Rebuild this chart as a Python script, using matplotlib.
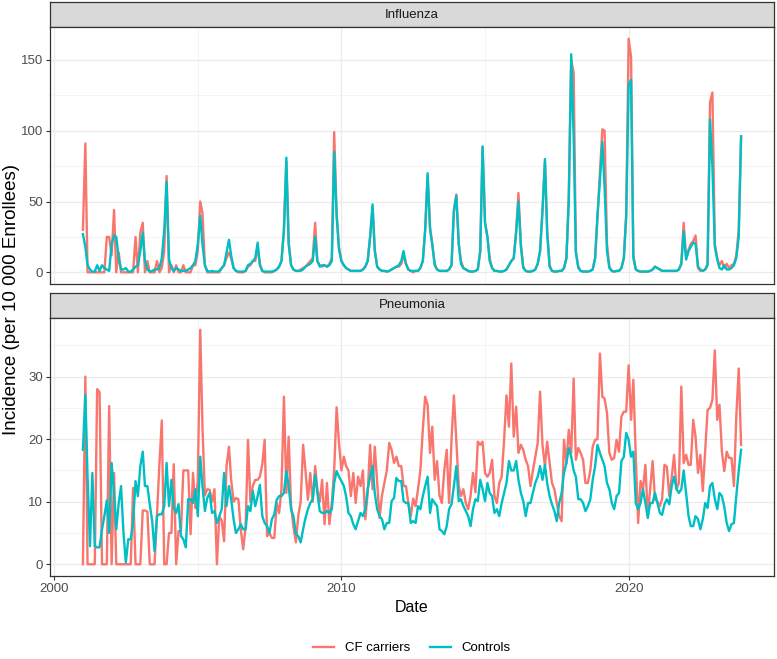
import matplotlib
matplotlib.use("Agg")
import matplotlib.pyplot as plt
import matplotlib.dates as mdates
from matplotlib.lines import Line2D
import numpy as np
import pandas as pd

plt.rcParams['font.family'] = ['Liberation Sans', 'DejaVu Sans']

# monthly values, Jan 2001 .. Dec 2023 (one row per year)
cf_flu = [
    30, 91, 0, 0, 0, 0, 0, 0, 0, 0, 25, 25,
    12, 44, 0, 14, 0, 0, 0, 0, 0, 0, 25, 0,
    28, 35, 0, 8, 0, 0, 0, 8, 0, 3, 15, 68,
    0, 5, 0, 5, 0, 0, 5, 0, 0, 0, 5, 5,
    15, 50, 42, 5, 0, 0, 0, 0, 0, 0, 3, 5,
    10, 14, 10, 3, 1, 0, 0, 0, 1, 4, 5, 8,
    8, 18, 6, 1, 0, 0, 0, 0, 1, 2, 4, 8,
    30, 78, 22, 5, 2, 1, 1, 2, 3, 4, 6, 8,
    10, 35, 8, 5, 4, 5, 4, 6, 10, 99, 42, 18,
    8, 5, 3, 2, 1, 1, 1, 1, 1, 2, 4, 8,
    25, 46, 16, 4, 2, 1, 1, 0.5, 1, 2, 3, 4,
    4, 6, 12, 6, 2, 1, 0, 1, 1, 3, 8, 30,
    68, 32, 20, 6, 2, 1, 1, 1, 1, 2, 5, 42,
    55, 20, 8, 3, 2, 1, 0.5, 0.5, 1, 2, 15, 88,
    35, 25, 10, 3, 1, 1, 0.5, 0.5, 1, 2, 5, 8,
    10, 30, 56, 20, 4, 1, 0.5, 0.5, 1, 2, 6, 15,
    44, 78, 30, 5, 1, 0.5, 0.5, 1, 1, 3, 10, 55,
    150, 141, 15, 4, 1, 0.5, 0.5, 0.5, 1, 2, 10, 40,
    70, 101, 100, 20, 4, 1, 0.5, 1, 1, 3, 10, 40,
    165, 152, 12, 2, 1, 0.5, 0.5, 0.5, 0.5, 1, 2, 4,
    3, 2, 1, 1, 1, 1, 1, 1, 1, 2, 6, 35,
    10, 16, 20, 22, 26, 3, 1, 1, 2, 6, 120, 127,
    20, 10, 5, 8, 3, 6, 3, 5, 6, 12, 30, 96,
]
ctrl_flu = [
    27, 18, 5, 2, 0.5, 0.5, 5, 1, 5, 3, 2, 1,
    20, 26, 25, 10, 2, 2, 3, 0.5, 0.5, 2, 4, 5,
    15, 28, 8, 2, 0.5, 1, 2, 2, 3, 10, 30, 64,
    9, 3, 1, 3, 2, 1, 1, 1, 2, 3, 5, 8,
    20, 40, 20, 5, 1, 0.5, 1, 0.5, 0.5, 1, 3, 5,
    14, 23, 12, 3, 1, 0.5, 0.5, 0.5, 1, 5, 6, 8,
    10, 21, 5, 1, 0.5, 0.5, 0.5, 0.5, 1, 2, 4, 8,
    30, 81, 20, 5, 2, 1, 1, 1, 2, 4, 5, 6,
    8, 25, 8, 4, 5, 5, 4, 5, 8, 85, 40, 16,
    8, 5, 3, 2, 1, 1, 1, 1, 1, 2, 4, 8,
    25, 48, 15, 4, 2, 1, 1, 0.5, 1, 2, 3, 4,
    5, 8, 15, 6, 2, 1, 1, 1, 1, 3, 8, 30,
    70, 30, 20, 5, 2, 1, 1, 1, 1, 2, 5, 44,
    54, 20, 6, 3, 2, 1, 0.5, 0.5, 1, 2, 15, 89,
    35, 25, 8, 3, 1, 1, 0.5, 0.5, 1, 2, 5, 8,
    10, 28, 50, 18, 3, 1, 0.5, 0.5, 1, 2, 6, 15,
    44, 80, 28, 4, 1, 0.5, 0.5, 1, 1, 3, 10, 50,
    154, 95, 14, 3, 1, 0.5, 0.5, 0.5, 1, 2, 10, 40,
    65, 92, 60, 15, 3, 1, 0.5, 1, 1, 3, 10, 40,
    132, 136, 10, 2, 1, 0.5, 0.5, 0.5, 0.5, 1, 2, 4,
    3, 2, 1, 1, 1, 1, 1, 1, 1, 2, 6, 29,
    9, 15, 18, 21, 20, 4, 2, 1, 2, 5, 108, 75,
    18, 9, 3, 2, 5, 2, 2, 3, 5, 10, 25, 96,
]
cf_pna = [
    0, 30, 0, 0, 0, 0, 28, 27.5, 0, 0, 0, 25.3,
    0, 14.6, 0, 0, 0, 0, 0, 0, 0, 12.2, 0, 0,
    0, 8.6, 8.6, 8.4, 0, 0, 0, 8, 16, 23, 0, 0,
    5, 5, 16, 0, 5.3, 5.3, 15, 15, 15, 4.8, 14.6, 9,
    13.5, 37.5, 22, 11, 12, 11.9, 10, 12, 0, 7.7, 7, 3.7,
    15.7, 18.8, 13.5, 10, 10.6, 10.4, 5.6, 2.4, 6, 19.9, 10, 12.5,
    13.5, 13.5, 14, 16, 19.9, 4.5, 5, 4.2, 4.2, 9.8, 8.2, 12,
    26.8, 11.4, 20.4, 9.3, 6, 3.5, 7.7, 10, 19.1, 15, 10.3, 14.6,
    10, 15.7, 12, 10, 13.5, 6.4, 13, 6.4, 9.8, 15, 25.1, 19.4,
    15, 17.2, 15.7, 15, 10.9, 14.6, 9.8, 14, 12.5, 15, 7.2, 11.4,
    19.1, 12, 18.8, 13, 7.4, 11, 13, 15, 19.4, 18.3, 16.2, 17.2,
    15.7, 15.7, 12.5, 12.5, 9.8, 7.7, 10.5, 9.3, 12, 15, 21.5, 26.8,
    25.5, 17.8, 22, 13.5, 16.5, 11, 9.8, 15, 18.3, 9.8, 19.9, 27,
    19.9, 12.5, 10.9, 12, 9.8, 8.8, 10.9, 14.6, 11.5, 19.6, 19.1, 19.6,
    14.6, 14, 14.6, 16.7, 10.9, 9.8, 13, 14, 19.9, 27, 22, 32.1,
    20.4, 25.2, 17.8, 19.1, 18.3, 16.7, 15.7, 12.5, 15, 17.2, 19.4, 27.6,
    19, 15.7, 19.6, 16.2, 13, 12, 9.8, 7.7, 6.9, 19.9, 16.2, 21.5,
    17.8, 29.7, 16.7, 18.6, 17.8, 16.7, 13, 13, 15, 18.8, 19.9, 20,
    33.7, 26.8, 26.5, 24.2, 17.8, 16.7, 17, 19.9, 18, 23.6, 24.4, 24.4,
    31.8, 23.1, 29.5, 17.2, 6.6, 13.3, 12, 15.9, 7.7, 12, 16.5, 10.4,
    10, 9.3, 10.4, 15.9, 15.6, 10.9, 13.8, 17.5, 12, 13, 28.4, 16.2,
    17.5, 15.9, 15.9, 23.1, 20.4, 14.6, 17.5, 11.7, 18.3, 24.7, 25, 26.3,
    34.2, 23.1, 25.5, 18, 14.9, 18, 17, 17, 12.5, 23.6, 31.3, 19.1,
]
ctrl_pna = [
    18.3, 27.1, 14, 2.9, 14.6, 2.9, 2.7, 2.7, 5.6, 7.7, 10.2, 5,
    16.2, 11.4, 5.6, 9.8, 12.5, 5, 0.3, 4, 4, 6.6, 13.3, 10.9,
    15.7, 18, 12.5, 12.5, 9.6, 6.9, 2.1, 7.7, 8, 8, 9.3, 16.2,
    9.3, 13.5, 9, 8.2, 9.6, 4.5, 4, 2.7, 10.4, 10.4, 9.8, 12,
    7.7, 17.2, 12.5, 8.5, 10.6, 11.4, 8.2, 8.5, 6.6, 7.7, 8.8, 14.6,
    9.3, 12.5, 10.4, 7.2, 5, 5.6, 6.4, 5.6, 5.6, 9.3, 8.5, 11.7,
    9.3, 10.9, 12.7, 7.7, 6.6, 6.1, 5, 7.2, 8, 10.3, 10.9, 10.9,
    11.4, 14.9, 12.5, 8.8, 7.7, 4.8, 4.5, 3.5, 5.6, 7.4, 8.8, 9.8,
    10.4, 14.3, 11.4, 8.5, 8.2, 8.2, 8.5, 8.2, 8.8, 13, 14.9, 14,
    13.3, 12.5, 10.9, 8.2, 7.7, 6.4, 5.6, 6.9, 8.2, 7.7, 8.8, 12,
    14, 15.7, 11.4, 8.8, 7.7, 7.2, 5.6, 6.6, 6.6, 10.1, 10.6, 13.8,
    13.3, 13.3, 10.1, 9.8, 9.8, 6.6, 6.9, 6.6, 9.3, 8.8, 10.9, 12.5,
    14, 8.2, 10.4, 9.8, 9.3, 5.6, 5.3, 4.8, 6.1, 8.8, 9.6, 12.5,
    15.7, 10.1, 10.4, 9.3, 8.5, 7.7, 6.1, 8.8, 10.4, 10.1, 13.5, 12,
    10.1, 13, 11.4, 10.9, 8.2, 8.8, 7.7, 9.8, 11.4, 13, 16.5, 15,
    15, 16.5, 13.5, 11.4, 10.1, 7.7, 9.8, 9.8, 11.4, 13, 14, 15.7,
    13.5, 15.9, 13, 10.9, 9.6, 8.5, 6.9, 9.8, 11.4, 14.6, 16.2, 18.6,
    17.2, 15, 14, 10.4, 10.4, 9.8, 8.5, 9.3, 10.4, 13.5, 15.7, 19.1,
    17.8, 16.7, 15.7, 13, 12, 9.8, 8.8, 10.9, 11.4, 16.5, 17.2, 21,
    19.9, 17.2, 18, 9.8, 8.8, 9.8, 12, 9.8, 7.4, 9.8, 9.8, 11.4,
    9.8, 8.2, 7.9, 9.6, 10.4, 9.6, 12.5, 14, 12, 11.4, 12, 15,
    11.4, 7.7, 6.1, 6.1, 7.7, 7.2, 5.6, 7.2, 9.8, 9, 12.5, 13,
    10.4, 8.8, 11.4, 10.9, 9.2, 6.6, 5.3, 6.4, 6.6, 10.9, 15, 18.3,
]

dates = pd.date_range('2001-01-01', periods=len(cf_flu), freq='MS')
RED, TEAL = '#F8766D', '#00BFC4'

fig = plt.figure(figsize=(7.77, 6.59), dpi=100)
W, H = 777, 659
left, right = 50, 774

def px_axes(x0, y0, x1, y1):
    return fig.add_axes([x0 / W, 1 - y1 / H, (x1 - x0) / W, (y1 - y0) / H])

d0, d1 = mdates.date2num(dates[0]), mdates.date2num(dates[-1])
pad = 0.05 * (d1 - d0)

panels = [
    ("Influenza", cf_flu, ctrl_flu, (2, 27, 284), [0, 50, 100, 150], [25, 75, 125]),
    ("Pneumonia", cf_pna, ctrl_pna, (293, 318, 576), [0, 10, 20, 30], [5, 15, 25, 35]),
]
for title, cf, ctrl, (ys, yt, yb), majors, minors in panels:
    # strip
    sax = px_axes(left, ys, right, yt)
    sax.set_facecolor('#D9D9D9')
    sax.set_xticks([]); sax.set_yticks([])
    for s in sax.spines.values():
        s.set_color('#333333'); s.set_linewidth(0.9)
    sax.text(0.5, 0.5, title, ha='center', va='center', fontsize=9.5, color='#1A1A1A',
             transform=sax.transAxes)

    ax = px_axes(left, yt, right, yb)
    ax.plot(dates, cf, color=RED, lw=1.7, solid_joinstyle='round')
    ax.plot(dates, ctrl, color=TEAL, lw=1.7, solid_joinstyle='round')
    vmax = max(max(cf), max(ctrl))
    ax.set_ylim(-0.05 * vmax, 1.05 * vmax)
    ax.set_xlim(d0 - pad, d1 + pad)
    ax.set_yticks(majors)
    ax.set_yticks(minors, minor=True)
    ax.xaxis.set_major_locator(mdates.YearLocator(10))
    ax.set_xticks([mdates.datestr2num(s) for s in ('2005-01-01', '2015-01-01')], minor=True)
    ax.xaxis.set_major_formatter(mdates.DateFormatter('%Y'))
    ax.grid(which='major', color='#EBEBEB', lw=0.9)
    ax.grid(which='minor', color='#F3F3F3', lw=0.6)
    ax.set_axisbelow(True)
    for s in ax.spines.values():
        s.set_color('#333333'); s.set_linewidth(0.9)
    ax.tick_params(which='major', length=3, width=0.8, color='#333333',
                   labelsize=9.5, labelcolor='#4D4D4D', pad=2)
    ax.tick_params(which='minor', length=0)
    if title == "Influenza":
        ax.tick_params(axis='x', which='both', bottom=False, labelbottom=False)
    else:
        ax.set_xlabel('Date', fontsize=11.5, color='black', labelpad=4)

fig.text(12 / W, 1 - 300 / H, 'Incidence (per 10 000 Enrollees)', rotation=90,
         ha='center', va='center', fontsize=13.5)

handles = [Line2D([], [], color=RED, lw=1.7), Line2D([], [], color=TEAL, lw=1.7)]
fig.legend(handles, ['CF carriers', 'Controls'], loc='center', ncol=2,
           bbox_to_anchor=(0.53, 1 - 648 / H), frameon=False, fontsize=9.5,
           handlelength=1.6, columnspacing=1.5, handletextpad=0.8)

fig.savefig('out.png', dpi=100)
